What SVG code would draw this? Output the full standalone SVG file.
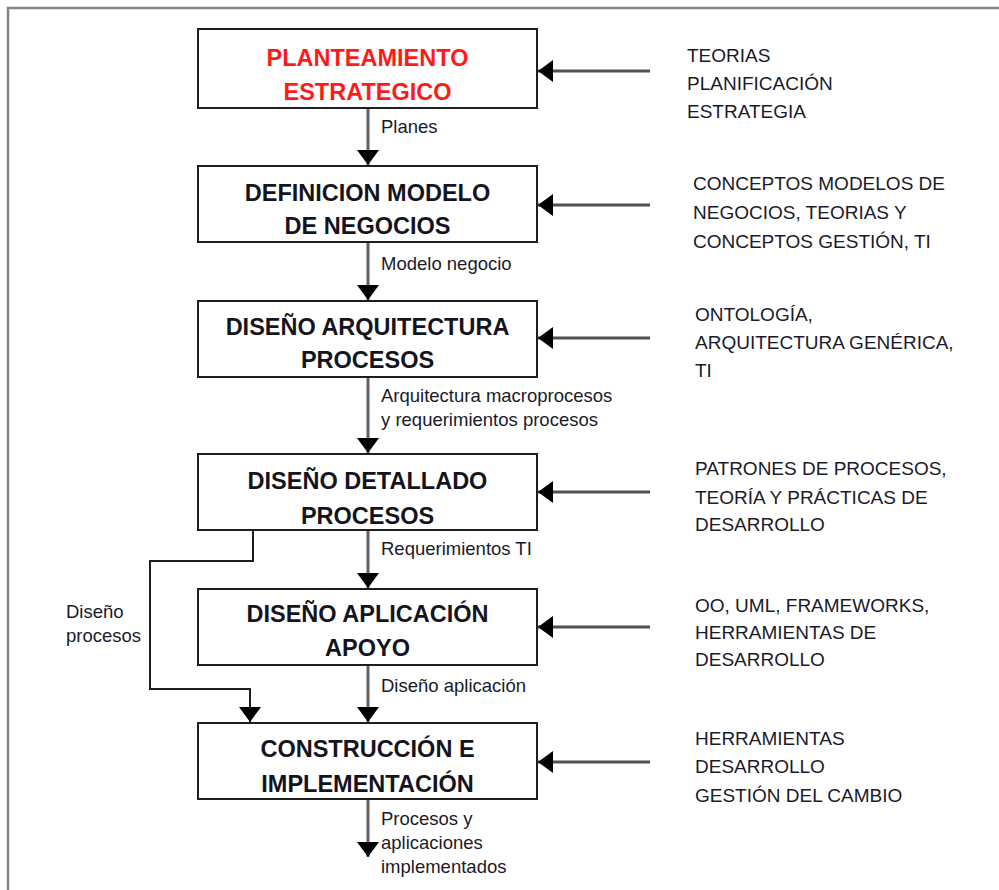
<svg xmlns="http://www.w3.org/2000/svg" width="999" height="890" viewBox="0 0 999 890">
  <style>
    .frame { fill: none; stroke: #858585; stroke-width: 2.5; }
    .box { fill: #ffffff; stroke: #1e1e1e; stroke-width: 2; }
    .title { font-family: "Liberation Sans", Arial, sans-serif; font-weight: bold; font-size: 23.5px; fill: #14141e; text-anchor: middle; }
    .red { fill: #ff1a1a; }
    .label { font-family: "Liberation Sans", Arial, sans-serif; font-size: 18.5px; fill: #1a1a2a; }
    .input { font-family: "Liberation Sans", Arial, sans-serif; font-size: 19px; fill: #1a1a2a; }
    .flow { fill: none; stroke: #606060; stroke-width: 3; }
    .side { fill: none; stroke: #505050; stroke-width: 3; }
    .branch { fill: none; stroke: #1e1e1e; stroke-width: 2; }
  </style>
  <defs>
    <marker id="head" viewBox="0 0 15 22" refX="15" refY="11" markerWidth="15" markerHeight="22" markerUnits="userSpaceOnUse" orient="auto">
      <path d="M0,0 L15,11 L0,22 Z" fill="#000000"/>
    </marker>
  </defs>

  <!-- page frame -->
  <path class="frame" d="M8,890 L8,8 L999,8"/>

  <!-- connectors -->
  <g id="connectors">
    <line class="flow" x1="368" y1="108" x2="368" y2="165" marker-end="url(#head)"/>
    <line class="flow" x1="368" y1="242" x2="368" y2="300" marker-end="url(#head)"/>
    <line class="flow" x1="368" y1="377" x2="368" y2="453" marker-end="url(#head)"/>
    <line class="flow" x1="368" y1="530" x2="368" y2="588" marker-end="url(#head)"/>
    <line class="flow" x1="368" y1="665" x2="368" y2="722" marker-end="url(#head)"/>
    <line class="flow" x1="368" y1="799" x2="368" y2="857" marker-end="url(#head)"/>
    <polyline class="branch" points="253,530 253,561 150,561 150,689 250,689 250,722" marker-end="url(#head)"/>

    <line class="side" x1="650" y1="71" x2="538" y2="71" marker-end="url(#head)"/>
    <line class="side" x1="650" y1="205" x2="538" y2="205" marker-end="url(#head)"/>
    <line class="side" x1="650" y1="338" x2="538" y2="338" marker-end="url(#head)"/>
    <line class="side" x1="650" y1="492" x2="538" y2="492" marker-end="url(#head)"/>
    <line class="side" x1="650" y1="627" x2="538" y2="627" marker-end="url(#head)"/>
    <line class="side" x1="650" y1="762" x2="538" y2="762" marker-end="url(#head)"/>

    <text class="label" x="381" y="133">Planes</text>
    <text class="label" x="381" y="270">Modelo negocio</text>
    <text class="label" x="381" y="402">Arquitectura macroprocesos</text>
    <text class="label" x="381" y="426">y requerimientos procesos</text>
    <text class="label" x="381" y="555">Requerimientos TI</text>
    <text class="label" x="66" y="618">Diseño</text>
    <text class="label" x="66" y="642">procesos</text>
    <text class="label" x="381" y="692">Diseño aplicación</text>
    <text class="label" x="381" y="825">Procesos y</text>
    <text class="label" x="381" y="849">aplicaciones</text>
    <text class="label" x="381" y="873">implementados</text>
  </g>

  <!-- process steps -->
  <g id="planteamiento">
    <rect class="box" x="198" y="29" width="339" height="79"/>
    <text class="title red" x="367.5" y="66">PLANTEAMIENTO</text>
    <text class="title red" x="367.5" y="100">ESTRATEGICO</text>
  </g>
  <g id="modelo-negocios">
    <rect class="box" x="198" y="166" width="339" height="76"/>
    <text class="title" x="367.5" y="201">DEFINICION MODELO</text>
    <text class="title" x="367.5" y="234">DE NEGOCIOS</text>
  </g>
  <g id="arquitectura-procesos">
    <rect class="box" x="198" y="301" width="339" height="76"/>
    <text class="title" x="367.5" y="335">DISEÑO ARQUITECTURA</text>
    <text class="title" x="367.5" y="368">PROCESOS</text>
  </g>
  <g id="detallado-procesos">
    <rect class="box" x="198" y="454" width="339" height="76"/>
    <text class="title" x="367.5" y="489">DISEÑO DETALLADO</text>
    <text class="title" x="367.5" y="524">PROCESOS</text>
  </g>
  <g id="aplicacion-apoyo">
    <rect class="box" x="198" y="589" width="339" height="76"/>
    <text class="title" x="367.5" y="622">DISEÑO APLICACIÓN</text>
    <text class="title" x="367.5" y="656">APOYO</text>
  </g>
  <g id="construccion">
    <rect class="box" x="198" y="723" width="339" height="76"/>
    <text class="title" x="367.5" y="757">CONSTRUCCIÓN E</text>
    <text class="title" x="367.5" y="792">IMPLEMENTACIÓN</text>
  </g>

  <!-- inputs on the right -->
  <g id="input-1">
    <text class="input" x="687" y="62">TEORIAS</text>
    <text class="input" x="687" y="90">PLANIFICACIÓN</text>
    <text class="input" x="687" y="118">ESTRATEGIA</text>
  </g>
  <g id="input-2">
    <text class="input" x="693" y="190">CONCEPTOS MODELOS DE</text>
    <text class="input" x="693" y="219">NEGOCIOS, TEORIAS Y</text>
    <text class="input" x="693" y="248">CONCEPTOS GESTIÓN, TI</text>
  </g>
  <g id="input-3">
    <text class="input" x="695" y="321">ONTOLOGÍA,</text>
    <text class="input" x="695" y="349">ARQUITECTURA GENÉRICA,</text>
    <text class="input" x="695" y="377">TI</text>
  </g>
  <g id="input-4">
    <text class="input" x="695" y="475">PATRONES DE PROCESOS,</text>
    <text class="input" x="695" y="504">TEORÍA Y PRÁCTICAS DE</text>
    <text class="input" x="695" y="531">DESARROLLO</text>
  </g>
  <g id="input-5">
    <text class="input" x="695" y="612">OO, UML, FRAMEWORKS,</text>
    <text class="input" x="695" y="639">HERRAMIENTAS DE</text>
    <text class="input" x="695" y="666">DESARROLLO</text>
  </g>
  <g id="input-6">
    <text class="input" x="695" y="745">HERRAMIENTAS</text>
    <text class="input" x="695" y="773">DESARROLLO</text>
    <text class="input" x="695" y="802">GESTIÓN DEL CAMBIO</text>
  </g>
</svg>
